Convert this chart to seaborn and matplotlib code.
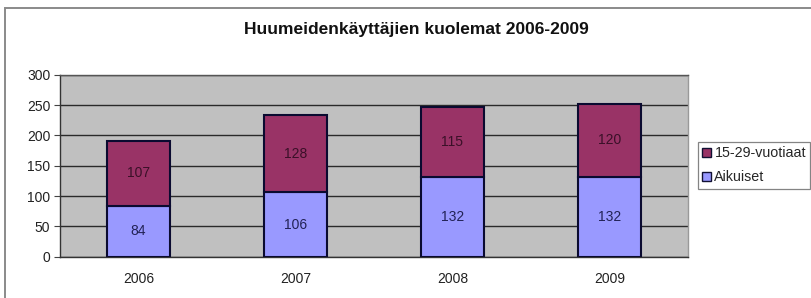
import matplotlib
matplotlib.use("Agg")
import matplotlib.pyplot as plt
from matplotlib.patches import Rectangle, Patch
import seaborn as sns
import numpy as np

years = ["2006", "2007", "2008", "2009"]
aikuiset = [84, 106, 132, 132]
nuoret = [107, 128, 115, 120]
series_names = ["15-29-vuotiaat", "Aikuiset"]
title = "Huumeidenkäyttäjien kuolemat 2006-2009"
yticks = [0, 50, 100, 150, 200, 250, 300]

sns.set_style("white")
plt.rcParams["font.family"] = ["Liberation Sans", "DejaVu Sans"]

fig = plt.figure(figsize=(8.11, 2.98), dpi=100)
fig.patches.append(Rectangle((5/811, -0.2), 1.2, 1.2 - 8/298, transform=fig.transFigure,
                             fill=False, edgecolor="#8a8a8a", linewidth=1.4))
ax = fig.add_axes([60/811, 41.3/298, 628/811, 182/298])
ax.set_facecolor("#C0C0C0")

c_ad = "#9999FF"
c_yo = "#993366"
sns.barplot(x=years, y=aikuiset, color=c_ad, width=0.4, edgecolor="#0a0a30",
            linewidth=1.5, ax=ax, saturation=1, zorder=3)
sns.barplot(x=years, y=nuoret, bottom=aikuiset, color=c_yo, width=0.4, edgecolor="#0a0a30",
            linewidth=1.5, ax=ax, saturation=1, zorder=3)

for i, cont in enumerate(ax.containers):
    labs = [str(v) for v in (aikuiset if i == 0 else nuoret)]
    ax.bar_label(cont, labels=labs, label_type="center", fontsize=10,
                 color="#222255" if i == 0 else "#3a1028")

ax.set_xlim(-0.5, 3.5)
ax.set_ylim(0, 300)
ax.set_yticks(yticks)
ax.set_yticklabels([str(t) for t in yticks], fontsize=10, color="#222222")
ax.yaxis.grid(True, color="#2a2a2a", linewidth=1.0, zorder=1)
ax.set_axisbelow(True)
ax.set_xticks(range(4))
ax.set_xticklabels(years, fontsize=10, color="#222222")
ax.set_xticks(np.arange(-0.5, 4, 1), minor=True)
ax.tick_params(axis="x", which="major", length=0, pad=11)
ax.tick_params(axis="x", which="minor", length=4, color="#444444", direction="out")
ax.tick_params(axis="y", length=4, color="#444444", direction="out", pad=3, left=True)
ax.spines["top"].set_color("#555555")
ax.spines["right"].set_color("#999999")
for s in ["left", "bottom"]:
    ax.spines[s].set_color("#333333")
for s in ax.spines.values():
    s.set_linewidth(1)
ax.set_xlabel("")
ax.set_ylabel("")

fig.text(416.5/811, 1 - 29.5/298, title, ha="center", va="center", fontsize=12.5,
         fontweight="bold", color="#111111")

handles = [Patch(facecolor=c_yo, edgecolor="#111133"), Patch(facecolor=c_ad, edgecolor="#111133")]
leg = fig.legend(handles, series_names, loc="upper left", bbox_to_anchor=(698/811, 1 - 142/298),
                 fontsize=10.3, frameon=True, fancybox=False, edgecolor="#666666", handlelength=0.6,
                 handleheight=0.6, handletextpad=0.25, borderpad=0.3, labelspacing=0.7,
                 borderaxespad=0)
leg.get_frame().set_linewidth(0.9)

fig.savefig("out.png", dpi=100)
